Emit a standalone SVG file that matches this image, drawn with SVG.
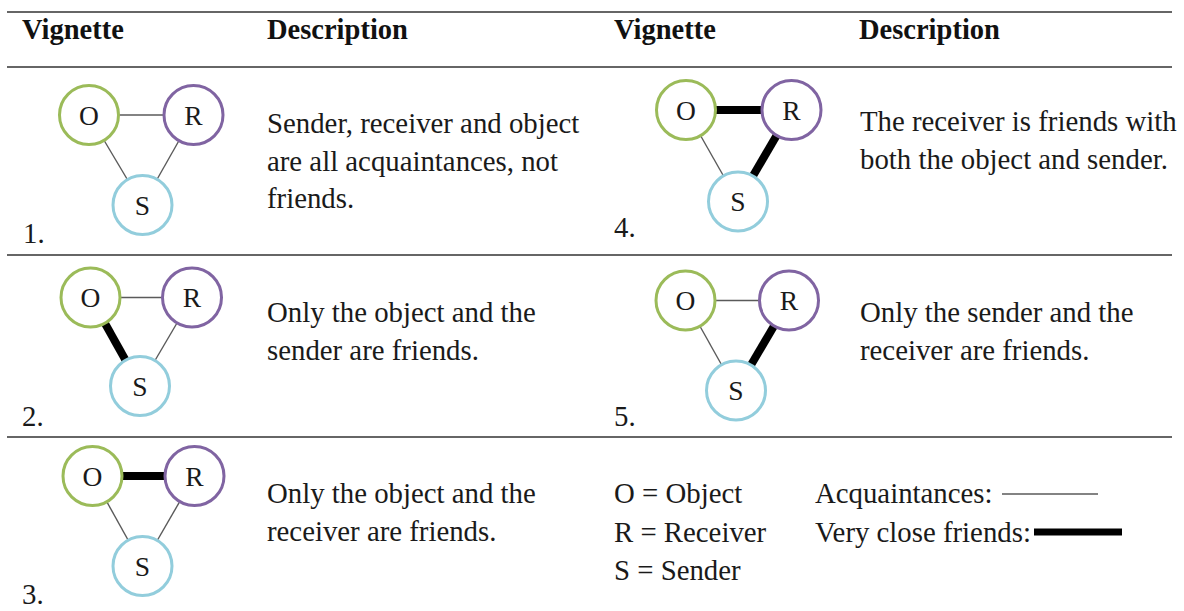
<svg xmlns="http://www.w3.org/2000/svg" width="1184" height="611" viewBox="0 0 1184 611">
<style>
  .bg{fill:#ffffff}
  .rule{stroke:#333333;stroke-width:1.6;fill:none}
  .hdr{font-family:"Liberation Serif","Times New Roman",serif;font-weight:bold;font-size:28.5px;fill:#111111}
  .txt{font-family:"Liberation Serif","Times New Roman",serif;font-size:28.8px;fill:#1a1a1a}
  .lbl{font-family:"Liberation Serif","Times New Roman",serif;font-size:27.5px;fill:#1a1a1a;text-anchor:middle}
  .acq{stroke:#5a5a5a;stroke-width:1.4;fill:none}
  .fr{stroke:#000000;stroke-width:8;fill:none}
  .o{fill:#ffffff;stroke:#9bbb59;stroke-width:3}
  .r{fill:#ffffff;stroke:#8064a2;stroke-width:3}
  .s{fill:#ffffff;stroke:#92cddc;stroke-width:3}
</style>
<rect class="bg" x="0" y="0" width="1184" height="611"/>

<g id="table-rules">
  <line class="rule" x1="7" y1="12" x2="1172" y2="12"/>
  <line class="rule" x1="7" y1="67" x2="1172" y2="67"/>
  <line class="rule" x1="7" y1="255" x2="1172" y2="255"/>
  <line class="rule" x1="7" y1="437" x2="1172" y2="437"/>
</g>

<g id="headers">
  <text class="hdr" x="22" y="39">Vignette</text>
  <text class="hdr" x="267" y="39">Description</text>
  <text class="hdr" x="614" y="39">Vignette</text>
  <text class="hdr" x="859" y="39">Description</text>
</g>

<g id="connectors">
  <!-- vignette 1 -->
  <line class="acq" x1="89" y1="115" x2="193.5" y2="115"/>
  <line class="acq" x1="89" y1="115" x2="142.5" y2="205"/>
  <line class="acq" x1="193.5" y1="115" x2="142.5" y2="205"/>
  <!-- vignette 2 -->
  <line class="acq" x1="90.5" y1="297.5" x2="192" y2="297.5"/>
  <line class="fr" x1="90.5" y1="297.5" x2="140" y2="386"/>
  <line class="acq" x1="192" y1="297.5" x2="140" y2="386"/>
  <!-- vignette 3 -->
  <line class="fr" x1="92.5" y1="476" x2="194.5" y2="476"/>
  <line class="acq" x1="92.5" y1="476" x2="142.5" y2="566"/>
  <line class="acq" x1="194.5" y1="476" x2="142.5" y2="566"/>
  <!-- vignette 4 -->
  <line class="fr" x1="686" y1="110" x2="791.5" y2="110"/>
  <line class="acq" x1="686" y1="110" x2="738" y2="201.5"/>
  <line class="fr" x1="791.5" y1="110" x2="738" y2="201.5"/>
  <!-- vignette 5 -->
  <line class="acq" x1="685.5" y1="300.5" x2="789" y2="300.5"/>
  <line class="acq" x1="685.5" y1="300.5" x2="736" y2="390.5"/>
  <line class="fr" x1="789" y1="300.5" x2="736" y2="390.5"/>
  <!-- legend samples -->
  <line class="acq" x1="1002" y1="494" x2="1098" y2="494"/>
  <line stroke="#000000" stroke-width="7" x1="1034" y1="532" x2="1122" y2="532"/>
</g>

<g id="v1">
  <g id="v1-O"><circle class="o" cx="89" cy="115" r="29.5"/><text class="lbl" x="89" y="124.5">O</text></g>
  <g id="v1-R"><circle class="r" cx="193.5" cy="115" r="29.5"/><text class="lbl" x="193.5" y="124.5">R</text></g>
  <g id="v1-S"><circle class="s" cx="142.5" cy="205" r="29.5"/><text class="lbl" x="142.5" y="214.5">S</text></g>
  <text class="txt" x="23" y="243">1.</text>
  <text class="txt" x="267" y="133">Sender, receiver and object</text>
  <text class="txt" x="267" y="171">are all acquaintances, not</text>
  <text class="txt" x="267" y="208">friends.</text>
</g>

<g id="v2">
  <g id="v2-O"><circle class="o" cx="90.5" cy="297.5" r="29.5"/><text class="lbl" x="90.5" y="307">O</text></g>
  <g id="v2-R"><circle class="r" cx="192" cy="297.5" r="29.5"/><text class="lbl" x="192" y="307">R</text></g>
  <g id="v2-S"><circle class="s" cx="140" cy="386" r="29.5"/><text class="lbl" x="140" y="395.5">S</text></g>
  <text class="txt" x="22" y="426">2.</text>
  <text class="txt" x="267" y="322">Only the object and the</text>
  <text class="txt" x="267" y="360">sender are friends.</text>
</g>

<g id="v3">
  <g id="v3-O"><circle class="o" cx="92.5" cy="476" r="29.5"/><text class="lbl" x="92.5" y="485.5">O</text></g>
  <g id="v3-R"><circle class="r" cx="194.5" cy="476" r="29.5"/><text class="lbl" x="194.5" y="485.5">R</text></g>
  <g id="v3-S"><circle class="s" cx="142.5" cy="566" r="29.5"/><text class="lbl" x="142.5" y="575.5">S</text></g>
  <text class="txt" x="22" y="604">3.</text>
  <text class="txt" x="267" y="503">Only the object and the</text>
  <text class="txt" x="267" y="541">receiver are friends.</text>
</g>

<g id="v4">
  <g id="v4-O"><circle class="o" cx="686" cy="110" r="29.5"/><text class="lbl" x="686" y="119.5">O</text></g>
  <g id="v4-R"><circle class="r" cx="791.5" cy="110" r="29.5"/><text class="lbl" x="791.5" y="119.5">R</text></g>
  <g id="v4-S"><circle class="s" cx="738" cy="201.5" r="29.5"/><text class="lbl" x="738" y="211">S</text></g>
  <text class="txt" x="614" y="237">4.</text>
  <text class="txt" x="860" y="131">The receiver is friends with</text>
  <text class="txt" x="860" y="169">both the object and sender.</text>
</g>

<g id="v5">
  <g id="v5-O"><circle class="o" cx="685.5" cy="300.5" r="29.5"/><text class="lbl" x="685.5" y="310">O</text></g>
  <g id="v5-R"><circle class="r" cx="789" cy="300.5" r="29.5"/><text class="lbl" x="789" y="310">R</text></g>
  <g id="v5-S"><circle class="s" cx="736" cy="390.5" r="29.5"/><text class="lbl" x="736" y="400">S</text></g>
  <text class="txt" x="614" y="426">5.</text>
  <text class="txt" x="860" y="322">Only the sender and the</text>
  <text class="txt" x="860" y="360">receiver are friends.</text>
</g>

<g id="legend">
  <text class="txt" x="614" y="503">O = Object</text>
  <text class="txt" x="614" y="542">R = Receiver</text>
  <text class="txt" x="614" y="580">S = Sender</text>
  <text class="txt" x="815" y="503">Acquaintances:</text>
  <text class="txt" x="815" y="542">Very close friends:</text>
</g>
</svg>
